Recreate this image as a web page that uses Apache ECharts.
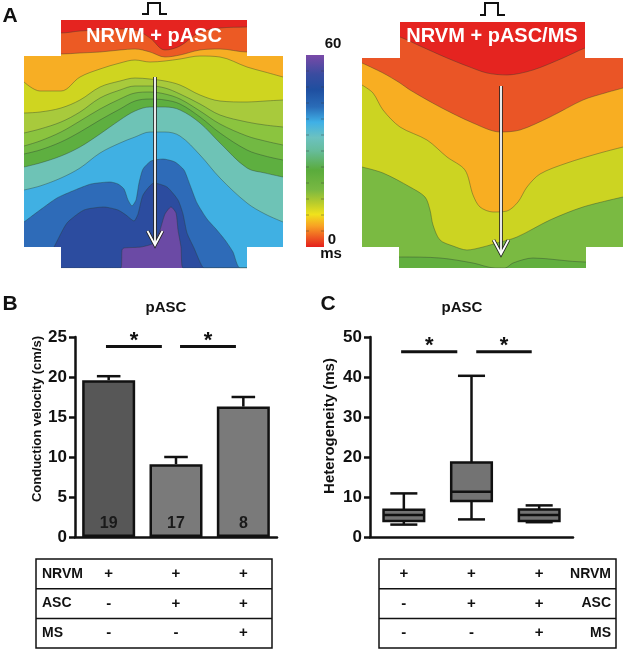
<!DOCTYPE html>
<html>
<head>
<meta charset="utf-8">
<script src="https://cdn.jsdelivr.net/npm/echarts@6.0.0/dist/echarts.min.js"></script>
<style>
html,body{margin:0;padding:0;background:#fff;}
#chart{width:625px;height:650px;}
</style>
</head>
<body>
<div id="chart"></div>
<script>
// ===== Panel A: activation maps – contour-band boundaries (map coordinates) =====
const mapL_x  = [24, 40, 61, 80, 100, 120, 135, 150, 165, 180, 200, 220, 247, 265, 283];
const mapL_b1 = [30, 30, 33, 31, 30, 29, 30, 38, 50, 46, 32, 28, 27, 26, 26];
const mapL_b2 = [50, 50, 54, 53, 52, 50, 49, 52, 57, 55, 50, 49, 52, 52, 52];
const mapL_b3 = [82, 91, 91, 77, 69, 63, 60, 62, 61, 59, 56, 57, 67, 72, 77];
const mapL_b4 = [113, 112, 108, 100, 87, 81, 78, 79, 81, 85, 95, 101, 102, 101, 100];
const mapL_b5 = [133, 129, 122, 112, 98, 90, 86, 86, 88, 94, 104, 115, 122, 125, 127];
const mapL_b6 = [146, 141, 132, 121, 109, 99, 93, 92, 94, 99, 111, 124, 136, 141, 145];
const mapL_b7 = [154, 150, 142, 132, 120, 109, 101, 99, 100, 104, 117, 133, 150, 156, 160];
const mapL_b8 = [167, 163, 156, 147, 134, 120, 111, 107, 107, 110, 123, 143, 168, 173, 177];
const mapL_b9 = [190, 186, 178, 168, 153, 143, 137, 132, 132, 136, 155, 178, 203, 214, 222];
const mapL_b10 = [[24,222],[40,210],[57,198],[75,190],[91,184],[110,182],[118,184],[124,189],[128,200],[132,206],[136,200],[139,183],[143,169],[151,161],[163,159],[175,162],[184,170],[190,185],[197,203],[207,219],[216,229],[225,240],[233,252],[240,268],[283,268]];
const mapL_b11 = [[24,268],[45,262],[54,247],[67,223],[84,210],[104,207],[118,210],[126,215],[134,221],[138,214],[143,195],[154,183],[167,187],[178,200],[183,214],[187,233],[194,248],[200,262],[204,268],[283,268]];
const mapL_b12 = [[24,268],[121,268],[122,250],[124,248],[141,247],[154,243],[160,230],[165,214],[171,207],[176,213],[178,230],[181,247],[183,268],[283,268]];

const mapR_b1 = [[362,30],[380,32],[400,37],[420,46],[447,58],[467,66],[487,73],[507,75],[533,70],[563,58],[585,48],[605,42],[623,40]];
const mapR_b2 = [[362,63],[383,73],[400,83],[410,90],[440,107],[473,123],[500,132],[520,130],[550,117],[583,100],[605,93],[623,88]];
const mapR_b3 = [[362,85],[373,93],[383,110],[400,127],[427,140],[447,157],[465,170],[473,195],[480,207],[493,212],[507,211],[518,202],[527,187],[540,174],[567,163],[600,153],[623,147]];
const mapR_b4 = [[362,167],[383,173],[410,187],[425,197],[430,210],[433,225],[440,240],[453,246],[467,250],[483,247],[497,243],[517,237],[550,220],[583,207],[623,197]];
const mapR_b5 = [[362,262],[400,257],[440,258],[473,263],[495,268],[505,268],[513,263],[533,258],[585,262],[623,262]];

// ===== Panel B: conduction velocity =====
const groups = ['NRVM', 'NRVM + ASC', 'NRVM + ASC/MS'];
const cvMean = [19.6, 9.1, 16.3];
const cvSem  = [0.5, 0.9, 1.2];
const cvN    = [19, 17, 8];
const cvSig  = [[0.46, 1.29], [1.56, 2.39]];
const cvSigY = 23.8;

// ===== Panel C: heterogeneity (min, q1, median, q3, max) =====
const hetBox = [[3.1, 4.0, 5.5, 6.8, 10.9], [4.4, 9.0, 11.3, 18.6, 40.3], [3.7, 4.0, 5.5, 6.9, 7.9]];
const hetSig = [[0.46, 1.29], [1.57, 2.39]];
const hetSigY = 46.3;

// ===== Condition tables =====
const tableRows  = ['NRVM', 'ASC', 'MS'];
const tableMarks = [['+', '+', '+'], ['-', '+', '+'], ['-', '-', '+']];

// ---------------------------------------------------------------
const FF = '"Liberation Sans", Arial, Helvetica, sans-serif';
const chart = echarts.init(document.getElementById('chart'), null, {renderer: 'canvas'});

const mapLColors = ['#ec5a24','#f7ae24','#cfd520','#a8ca3c','#8bc43f','#72b943','#5eaf40','#6ec3b6','#40b0e3','#2e6bb8','#2c4c9f','#6b4aa5'];
const mapRColors = ['#ea5526','#f8ae22','#ccd422','#7aba42','#62af3f'];

function band(xi, pts, color, sm) {
  return {
    type: 'line', xAxisIndex: xi, yAxisIndex: xi, data: pts, symbol: 'none',
    smooth: sm, silent: true, animation: false, z: 2,
    lineStyle: {color: '#2a3a30', width: 0.7, opacity: 0.55},
    areaStyle: {color: color, opacity: 1, origin: 'end'}
  };
}
const zip = (xs, ys) => xs.map((x, i) => [x, ys[i]]);
const leftBands = [zip(mapL_x, mapL_b1), zip(mapL_x, mapL_b2), zip(mapL_x, mapL_b3), zip(mapL_x, mapL_b4),
  zip(mapL_x, mapL_b5), zip(mapL_x, mapL_b6), zip(mapL_x, mapL_b7), zip(mapL_x, mapL_b8), zip(mapL_x, mapL_b9),
  mapL_b10, mapL_b11, mapL_b12];
const rightBands = [mapR_b1, mapR_b2, mapR_b3, mapR_b4, mapR_b5];

const series = [];
leftBands.forEach((b, i) => series.push(band(0, b, mapLColors[i], i >= 9 ? 0.2 : 0.35)));
rightBands.forEach((b, i) => series.push(band(1, b, mapRColors[i], 0.3)));

const AX = {color: '#111', width: 2.5};
const axisLab = {fontSize: 17, fontWeight: 'bold', color: '#111', fontFamily: FF, margin: 8};

series.push({
  type: 'bar', xAxisIndex: 2, yAxisIndex: 2, barWidth: 53, animation: false,
  data: cvMean.map((v, i) => ({value: v, itemStyle: {color: i === 0 ? '#575757' : '#7a7a7a', borderColor: '#111', borderWidth: 2.5}})),
  label: {show: true, position: 'insideBottom', distance: 5, formatter: p => String(cvN[p.dataIndex]),
    fontSize: 16, fontWeight: 'bold', color: '#1a1a1a', fontFamily: FF}
});
series.push({
  type: 'custom', xAxisIndex: 2, yAxisIndex: 2, animation: false, z: 4,
  data: cvMean.map((m, i) => [i, m, cvSem[i]]),
  renderItem: (params, api) => {
    const i = api.value(0), m = api.value(1), e = api.value(2);
    const base = api.coord([i, m]), top = api.coord([i, m + e]);
    const cw = api.size([1, 0])[0] * 0.35 / 2;
    const st = {stroke: '#111', lineWidth: 2.5};
    return {type: 'group', children: [
      {type: 'line', shape: {x1: base[0], y1: base[1], x2: top[0], y2: top[1]}, style: st},
      {type: 'line', shape: {x1: top[0] - cw, y1: top[1], x2: top[0] + cw, y2: top[1]}, style: st}
    ]};
  }
});
function sigSeries(xi, yi, pairs, y) {
  return {
    type: 'custom', xAxisIndex: xi, yAxisIndex: yi, animation: false, z: 5,
    data: pairs.map(p => [p[0], p[1], y]),
    renderItem: (params, api) => {
      const a = api.coord([api.value(0), api.value(2)]), b = api.coord([api.value(1), api.value(2)]);
      return {type: 'group', children: [
        {type: 'line', shape: {x1: a[0], y1: a[1], x2: b[0], y2: b[1]}, style: {stroke: '#111', lineWidth: 3}},
        {type: 'text', style: {text: '*', x: (a[0] + b[0]) / 2, y: a[1] - 6, font: 'bold 22px ' + FF, fill: '#111',
          align: 'center', verticalAlign: 'middle', textAlign: 'center', textVerticalAlign: 'middle'}}
      ]};
    }
  };
}
series.push(sigSeries(3, 2, cvSig, cvSigY));
series.push({
  type: 'custom', xAxisIndex: 4, yAxisIndex: 3, animation: false, z: 4,
  data: hetBox.map((b, i) => [i].concat(b)),
  renderItem: (params, api) => {
    const i = api.value(0);
    const p = [1, 2, 3, 4, 5].map(k => api.coord([i, api.value(k)]));
    const x = p[0][0];
    const bw = api.size([1, 0])[0] * 0.6 / 2, cw = api.size([1, 0])[0] * 0.4 / 2;
    const st = {stroke: '#111', lineWidth: 2.5};
    return {type: 'group', children: [
      {type: 'line', shape: {x1: x, y1: p[4][1], x2: x, y2: p[3][1]}, style: st},
      {type: 'line', shape: {x1: x, y1: p[0][1], x2: x, y2: p[1][1]}, style: st},
      {type: 'line', shape: {x1: x - cw, y1: p[4][1], x2: x + cw, y2: p[4][1]}, style: st},
      {type: 'line', shape: {x1: x - cw, y1: p[0][1], x2: x + cw, y2: p[0][1]}, style: st},
      {type: 'rect', shape: {x: x - bw, y: p[3][1], width: 2 * bw, height: p[1][1] - p[3][1]}, style: {fill: '#737373', stroke: '#111', lineWidth: 2.5}},
      {type: 'line', shape: {x1: x - bw, y1: p[2][1], x2: x + bw, y2: p[2][1]}, style: st}
    ]};
  }
});
series.push(sigSeries(5, 3, hetSig, hetSigY));

const catAxis = (g) => ({
  gridIndex: g, type: 'category', data: groups,
  axisLine: {lineStyle: AX}, axisTick: {alignWithLabel: true, length: 6, lineStyle: AX},
  axisLabel: {show: false}, splitLine: {show: false}
});
const valAxis = (g, max, step) => ({
  gridIndex: g, type: 'value', min: 0, max: max, interval: step,
  axisLine: {show: true, lineStyle: AX}, axisTick: {show: true, length: 6, lineStyle: AX},
  axisLabel: axisLab, splitLine: {show: false}
});

chart.setOption({
  animation: false,
  backgroundColor: '#fff',
  grid: [
    {left: 24, top: 20, width: 259, height: 248, show: true, backgroundColor: '#e52420', borderWidth: 0},
    {left: 362, top: 22, width: 261, height: 246, show: true, backgroundColor: '#e52420', borderWidth: 0},
    {left: 75, top: 337, width: 202, height: 200},
    {left: 370, top: 337, width: 203, height: 200}
  ],
  xAxis: [
    {gridIndex: 0, type: 'value', min: 24, max: 283, show: false},
    {gridIndex: 1, type: 'value', min: 362, max: 623, show: false},
    catAxis(2),
    {gridIndex: 2, type: 'value', min: 0, max: 3, show: false},
    catAxis(3),
    {gridIndex: 3, type: 'value', min: 0, max: 3, show: false}
  ],
  yAxis: [
    {gridIndex: 0, type: 'value', min: 20, max: 268, inverse: true, show: false},
    {gridIndex: 1, type: 'value', min: 22, max: 268, inverse: true, show: false},
    valAxis(2, 25, 5),
    valAxis(3, 50, 10)
  ],
  series: series
});

// ---------- annotations (graphic) ----------
const G = [];
function txt(x, y, s, font, opt) {
  opt = opt || {};
  G.push({type: 'text', z: 60, x: x, y: y, rotation: opt.rot || 0, silent: true,
    style: {text: s, font: font, fill: opt.fill || '#111',
      align: opt.align || 'center', verticalAlign: 'middle',
      textAlign: opt.align || 'center', textVerticalAlign: 'middle'}});
}
function rect(x, y, w, h, fill, stroke, lw) {
  G.push({type: 'rect', z: 50, silent: true, shape: {x: x, y: y, width: w, height: h},
    style: {fill: fill, stroke: stroke || null, lineWidth: lw || 0}});
}
function poly(pts, stroke, lw, z) {
  G.push({type: 'polyline', z: z || 55, silent: true, shape: {points: pts}, style: {stroke: stroke, lineWidth: lw, fill: null}});
}
// map outline masks (cross shape)
[[24,19,37,37],[247,19,37,37],[24,247,37,22],[247,247,37,22],
 [361,21,39,37],[585,21,39,37],[361,247,38,22],[586,247,38,22]].forEach(r => rect(r[0], r[1], r[2], r[3], '#fff'));
// stimulus pulses
poly([[142,14],[148,14],[148,3],[160,3],[160,14],[167,14]], '#111', 2);
poly([[480,15],[485,15],[485,3],[498,3],[498,15],[505,15]], '#111', 2);
// arrows
function arrow(x, y1, y2) {
  const head = [[x - 7.5, y2 - 14], [x, y2], [x + 7.5, y2 - 14]];
  poly([[x, y1], [x, y2]], '#222', 3.6, 55);
  poly(head, '#222', 3.6, 55);
  poly([[x, y1], [x, y2 - 1]], '#fff', 1.8, 56);
  poly(head, '#fff', 1.8, 56);
}
arrow(155, 77, 245);
arrow(501, 86, 254);
// map titles
txt(154, 36, 'NRVM + pASC', 'bold 20px ' + FF, {fill: '#fff'});
txt(492, 36, 'NRVM + pASC/MS', 'bold 20px ' + FF, {fill: '#fff'});
// colour bar
G.push({type: 'rect', z: 50, silent: true, shape: {x: 306, y: 55, width: 18, height: 192},
  style: {fill: new echarts.graphic.LinearGradient(0, 1, 0, 0, [
    {offset: 0, color: '#e4201c'}, {offset: 0.05, color: '#ee5a22'}, {offset: 0.11, color: '#f8a224'},
    {offset: 0.17, color: '#f0e21c'}, {offset: 0.23, color: '#b8cc2c'}, {offset: 0.3, color: '#78b842'},
    {offset: 0.4, color: '#5aab3c'}, {offset: 0.5, color: '#66bc9a'}, {offset: 0.57, color: '#6cc2c0'},
    {offset: 0.65, color: '#3fb0e6'}, {offset: 0.73, color: '#2a6cb8'}, {offset: 0.82, color: '#1f4fa0'},
    {offset: 0.9, color: '#3a4ca0'}, {offset: 1, color: '#7a4aa8'}])}});
for (let k = 1; k < 12; k++) {
  const yy = 55 + k * 16;
  poly([[306, yy], [309, yy]], 'rgba(60,60,60,0.45)', 1, 52);
  poly([[321, yy], [324, yy]], 'rgba(60,60,60,0.45)', 1, 52);
}
txt(333, 44, '60', 'bold 15px ' + FF);
txt(332, 240, '0', 'bold 15px ' + FF);
txt(331, 254, 'ms', 'bold 15px ' + FF);
// panel letters and titles
txt(10, 16, 'A', 'bold 21px ' + FF);
txt(10, 304, 'B', 'bold 21px ' + FF);
txt(328, 304, 'C', 'bold 21px ' + FF);
txt(166, 308, 'pASC', 'bold 15px ' + FF);
txt(462, 308, 'pASC', 'bold 15px ' + FF);
txt(37, 419, 'Conduction velocity (cm/s)', 'bold 13px ' + FF, {rot: Math.PI / 2});
txt(330, 426, 'Heterogeneity (ms)', 'bold 15px ' + FF, {rot: Math.PI / 2});
// condition tables
function table(x0, w, cols, labelRight) {
  const y0 = 559, rh = 29.7;
  rect(x0, y0, w, rh * 3, 'none', '#111', 1.5);
  G[G.length - 1].style.fill = null;
  for (let r = 1; r < 3; r++) poly([[x0, y0 + r * rh], [x0 + w, y0 + r * rh]], '#111', 1.5);
  tableRows.forEach((lab, r) => {
    const yc = y0 + rh * (r + 0.5);
    if (labelRight) txt(x0 + w - 5, yc, lab, 'bold 14px ' + FF, {align: 'right'});
    else txt(x0 + 6, yc, lab, 'bold 14px ' + FF, {align: 'left'});
    tableMarks[r].forEach((m, c) => txt(cols[c], yc, m, 'bold 15px ' + FF));
  });
}
const colsB = [0, 1, 2].map(i => chart.convertToPixel({xAxisIndex: 3}, i + 0.5));
const colsC = [0, 1, 2].map(i => chart.convertToPixel({xAxisIndex: 5}, i + 0.5));
table(36, 236, colsB, false);
table(379, 237, colsC, true);

chart.setOption({graphic: {elements: G}});
</script>
</body>
</html>
